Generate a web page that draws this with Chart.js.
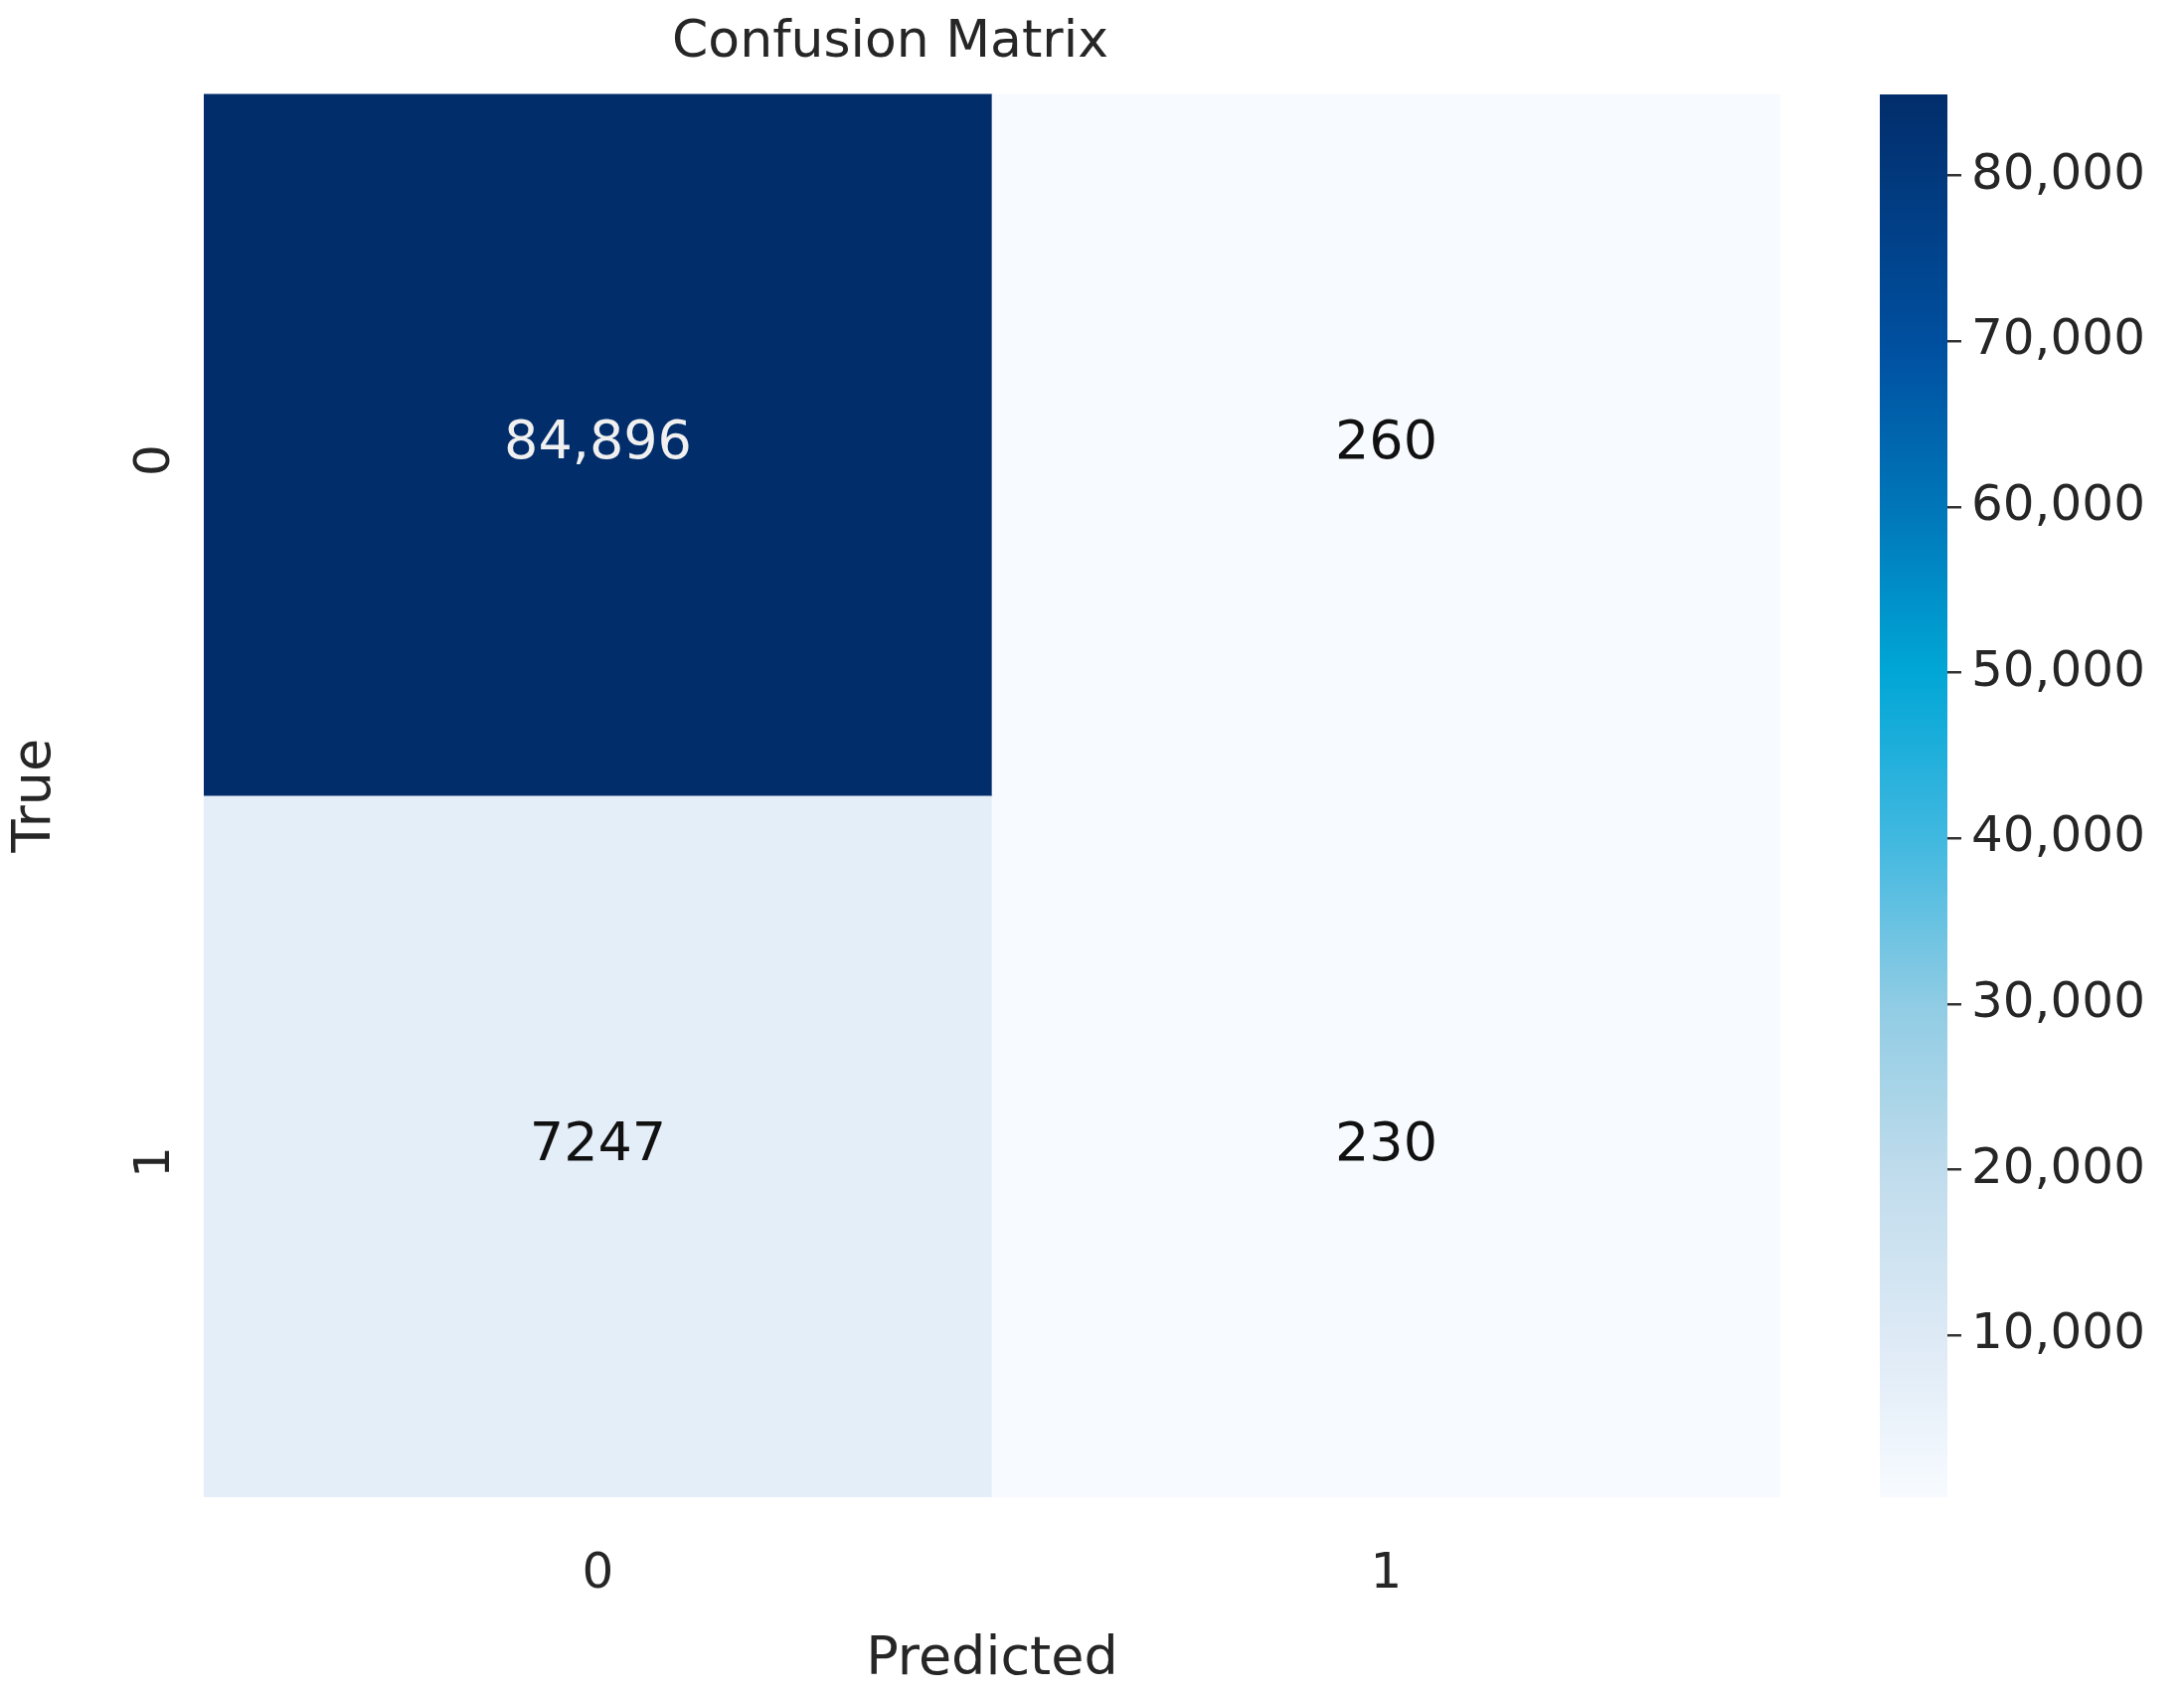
<!DOCTYPE html>
<html>
<head>
<meta charset="utf-8">
<script src="https://cdn.jsdelivr.net/npm/chart.js@4"></script>
<style>
  body { margin: 0; background: #fff; }
  #wrap { position: relative; width: 2197px; height: 1706px; }
  #matrix { position: absolute; left: 0; top: 0; }
  #cbar { position: absolute; left: 1840px; top: 0; }
</style>
</head>
<body>
<div id="wrap">
  <canvas id="matrix" width="1840" height="1706"></canvas>
  <canvas id="cbar" width="357" height="1706"></canvas>
</div>
<script>
const predictedLabels = ['0', '1'];
const trueLabels = ['0', '1'];
const row0 = [84896, 260];
const row1 = [7247, 230];
const cellText = [['84,896', '260'], ['7247', '230']];
const cbarTicks = [10000, 20000, 30000, 40000, 50000, 60000, 70000, 80000];

const FONT = 'DejaVu Sans';
const vmin = Math.min(...row0, ...row1);
const vmax = Math.max(...row0, ...row1);

// blues-like colour ramp
const stops = [
  [0.00, [247, 251, 255]],
  [0.11, [222, 234, 246]],
  [0.23, [192, 220, 236]],
  [0.35, [144, 204, 228]],
  [0.47, [64, 184, 224]],
  [0.59, [0, 166, 214]],
  [0.70, [0, 120, 186]],
  [0.82, [0, 80, 160]],
  [1.00, [2, 45, 107]]
];
function colorFor(v) {
  const t = Math.max(0, Math.min(1, (v - vmin) / (vmax - vmin)));
  for (let i = 1; i < stops.length; i++) {
    if (t <= stops[i][0]) {
      const [t0, c0] = stops[i - 1], [t1, c1] = stops[i];
      const f = (t - t0) / (t1 - t0);
      const c = c0.map((x, k) => Math.round(x + (c1[k] - x) * f));
      return `rgb(${c[0]},${c[1]},${c[2]})`;
    }
  }
  return 'rgb(2,45,107)';
}

// write counts in the middle of each cell
const cellLabels = {
  id: 'cellLabels',
  afterDatasetsDraw(chart) {
    const ctx = chart.ctx;
    const x = chart.scales.x, y = chart.scales.y;
    ctx.save();
    ctx.font = '54px ' + FONT;
    ctx.textAlign = 'center';
    ctx.textBaseline = 'middle';
    [row0, row1].forEach((row, r) => {
      row.forEach((v, c) => {
        ctx.fillStyle = (v - vmin) / (vmax - vmin) > 0.5 ? '#f0f0f0' : '#111';
        ctx.fillText(cellText[r][c], x.getPixelForValue(c), y.getPixelForValue(r + 0.5));
      });
    });
    ctx.restore();
  }
};

new Chart(document.getElementById('matrix'), {
  type: 'bar',
  data: {
    labels: predictedLabels,
    datasets: [row0, row1].map(row => ({
      data: row.map(() => 1),
      backgroundColor: row.map(colorFor),
      borderWidth: 0,
      barPercentage: 1,
      categoryPercentage: 1
    }))
  },
  options: {
    responsive: false,
    animation: false,
    layout: { padding: { right: 49, left: 0, top: 0, bottom: 0 } },
    plugins: {
      legend: { display: false },
      tooltip: { enabled: false },
      title: {
        display: true,
        text: 'Confusion Matrix',
        color: '#262626',
        font: { family: FONT, size: 52, weight: 'normal' },
        padding: { top: 12, bottom: 20 }
      }
    },
    scales: {
      x: {
        stacked: true,
        grid: { display: false },
        border: { display: false },
        ticks: { color: '#262626', padding: 40, font: { family: FONT, size: 50 } },
        title: { display: true, text: 'Predicted', color: '#262626', font: { family: FONT, size: 54 }, padding: { top: 10 } },
        afterFit(s) { s.height = 200; }
      },
      y: {
        stacked: true,
        reverse: true,
        min: 0,
        max: 2,
        grid: { display: false },
        border: { display: false },
        afterBuildTicks(s) { s.ticks = [{ value: 0.5 }, { value: 1.5 }]; },
        ticks: {
          color: '#262626',
          padding: 40,
          minRotation: 90,
          maxRotation: 90,
          font: { family: FONT, size: 50 },
          callback: (v) => trueLabels[Math.floor(v)]
        },
        title: { display: true, text: 'True', color: '#262626', font: { family: FONT, size: 54 }, padding: { bottom: 10 } },
        afterFit(s) { s.width = 205; }
      }
    }
  },
  plugins: [cellLabels]
});

// colour bar
new Chart(document.getElementById('cbar'), {
  type: 'bar',
  data: {
    labels: [''],
    datasets: [{
      data: [[vmin, vmax]],
      borderWidth: 0,
      barPercentage: 1,
      categoryPercentage: 1,
      backgroundColor(ctx) {
        const chart = ctx.chart, area = chart.chartArea;
        if (!area) return '#fff';
        const ys = chart.scales.y;
        const g = chart.ctx.createLinearGradient(0, ys.getPixelForValue(vmin), 0, ys.getPixelForValue(vmax));
        stops.forEach(([t]) => g.addColorStop(t, colorFor(vmin + t * (vmax - vmin))));
        return g;
      }
    }]
  },
  options: {
    responsive: false,
    animation: false,
    layout: { padding: { left: 51, top: 95, bottom: 200, right: 0 } },
    plugins: { legend: { display: false }, tooltip: { enabled: false } },
    scales: {
      x: { display: false },
      y: {
        position: 'right',
        min: vmin,
        max: vmax,
        border: { display: false },
        grid: { drawOnChartArea: false, tickLength: 14, lineWidth: 2.5, color: '#333' },
        afterBuildTicks(s) { s.ticks = cbarTicks.map(v => ({ value: v })); },
        ticks: { color: '#262626', padding: 10, font: { family: FONT, size: 50 } },
        afterFit(s) { s.width = 238; }
      }
    }
  }
});
</script>
</body>
</html>
